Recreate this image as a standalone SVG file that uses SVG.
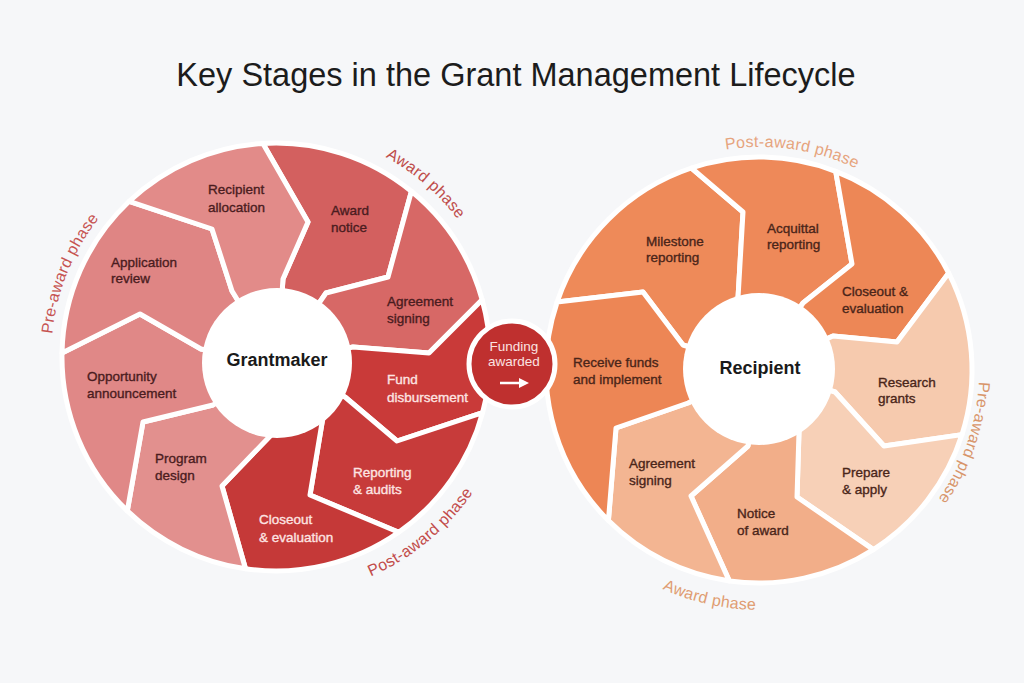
<svg xmlns="http://www.w3.org/2000/svg" width="1024" height="683" viewBox="0 0 1024 683">
<defs>
<style>
.seg{stroke:#ffffff;stroke-width:5;stroke-linejoin:round}
.lbl{font-family:"Liberation Sans",Arial,sans-serif;font-size:13.5px;stroke-width:0.35}
.dk{fill:#4a1c20;stroke:#4a1c20}
.lt{fill:#fde4e2;stroke:#fde4e2}
.br{fill:#4a2519;stroke:#4a2519}
.ctr{font-family:"Liberation Sans",Arial,sans-serif;font-size:18px;font-weight:bold;fill:#1a1a1a;text-anchor:middle}
.ph{font-family:"Liberation Sans",Arial,sans-serif;font-size:16px;letter-spacing:0.3px}
</style>
<path id="arcL1" d="M 64.6 434 A 225 225 0 0 1 177.4 154.8" fill="none"/>
<path id="arcL2" d="M 276 129 A 228 228 0 0 1 501.6 323.7" fill="none"/>
<path id="arcL3" d="M 276 596 A 239 239 0 0 0 510.5 403.4" fill="none"/>
<path id="arcR1" d="M 625.5 191.6 A 225 225 0 0 1 940.4 237.5" fill="none"/>
<path id="arcR2" d="M 957 276.3 A 219 219 0 0 1 855.7 569" fill="none"/>
<path id="arcR3" d="M 559.1 499.5 A 238 238 0 0 0 887.5 572.9" fill="none"/>
<marker id="ah" viewBox="0 0 10 10" refX="5" refY="5" markerWidth="4" markerHeight="4" orient="auto">
<path d="M0 0 L10 5 L0 10 Z" fill="#ffffff"/>
</marker>
</defs>
<rect width="1024" height="683" fill="#f6f7f9"/>
<text x="516" y="86" text-anchor="middle" font-family="'Liberation Sans',Arial,sans-serif" font-size="32.5" fill="#1c1c1c">Key Stages in the Grant Management Lifecycle</text>

<g id="grantmaker">
<g id="g-award-notice"><path class="seg" fill="#d3605f" d="M 262.9 143.4 A 214 214 0 0 1 411.4 191.3 L 388 277 L 326 293 L 305.4 322.9 L 280.5 314.1 L 283 279 L 308 222 Z"/>
<text class="lbl dk" x="331" y="215">Award</text><text class="lbl dk" x="331" y="232">notice</text></g>
<g id="g-agreement-signing"><path class="seg" fill="#d76866" d="M 411.4 191.3 A 214 214 0 0 1 482.2 299.8 L 429 353 L 353 347 L 325.8 353.1 L 305.4 322.9 L 326 293 L 388 277 Z"/>
<text class="lbl dk" x="387" y="306">Agreement</text><text class="lbl dk" x="387" y="323">signing</text></g>
<g id="g-fund-disbursement"><path class="seg" fill="#c93a39" d="M 482.2 299.8 A 214 214 0 0 1 482.6 412.7 L 397 441 L 345 397 L 322 385.8 L 325.8 353.1 L 353 347 L 429 353 Z"/>
<text class="lbl lt" x="387" y="384">Fund</text><text class="lbl lt" x="387" y="402">disbursement</text></g>
<g id="g-reporting"><path class="seg" fill="#c73b3a" d="M 482.6 412.7 A 214 214 0 0 1 398.7 532.3 L 310 495 L 325 405 L 315 396.5 L 322 385.8 L 345 397 L 397 441 Z"/>
<text class="lbl lt" x="353" y="477">Reporting</text><text class="lbl lt" x="353" y="494">&amp; audits</text></g>
<g id="g-closeout"><path class="seg" fill="#c53938" d="M 398.7 532.3 A 214 214 0 0 1 245.5 568.8 L 222 486 L 273 433 L 274.1 413.9 L 315 396.5 L 325 405 L 310 495 Z"/>
<text class="lbl lt" x="259" y="524">Closeout</text><text class="lbl lt" x="259" y="542">&amp; evaluation</text></g>
<g id="g-program-design"><path class="seg" fill="#e2908e" d="M 245.5 568.8 A 214 214 0 0 1 127.3 510.9 L 143 422 L 213 405 L 234.9 391 L 274.1 413.9 L 273 433 L 222 486 Z"/>
<text class="lbl dk" x="155" y="463">Program</text><text class="lbl dk" x="155" y="480">design</text></g>
<g id="g-opportunity"><path class="seg" fill="#e08887" d="M 127.3 510.9 A 214 214 0 0 1 62 352.9 L 140 314 L 201 349 L 228 354.3 L 234.9 391 L 213 405 L 143 422 Z"/>
<text class="lbl dk" x="87" y="381">Opportunity</text><text class="lbl dk" x="87" y="398">announcement</text></g>
<g id="g-application-review"><path class="seg" fill="#df8584" d="M 62 352.9 A 214 214 0 0 1 129.2 201.3 L 212 229 L 232 291 L 250.8 321.5 L 228 354.3 L 201 349 L 140 314 Z"/>
<text class="lbl dk" x="111" y="267">Application</text><text class="lbl dk" x="111" y="283">review</text></g>
<g id="g-recipient-allocation"><path class="seg" fill="#e28b89" d="M 129.2 201.3 A 214 214 0 0 1 262.9 143.4 L 308 222 L 283 279 L 280.5 314.1 L 250.8 321.5 L 232 291 L 212 229 Z"/>
<text class="lbl dk" x="208" y="194">Recipient</text><text class="lbl dk" x="208" y="212">allocation</text></g>
<g id="g-grantmaker-center"><circle cx="277" cy="363" r="75" fill="#ffffff"/>
<text class="ctr" x="277" y="366">Grantmaker</text></g>
<g id="g-left-phases">
<text class="ph" fill="#c65452"><textPath href="#arcL1" startOffset="50%" text-anchor="middle">Pre-award phase</textPath></text>
<text class="ph" fill="#bf4d4b"><textPath href="#arcL2" startOffset="50%" text-anchor="middle">Award phase</textPath></text>
<text class="ph" fill="#c24c4a"><textPath href="#arcL3" startOffset="97.5">Post-award</textPath></text>
<text class="ph" fill="#c24c4a"><textPath href="#arcL3" startOffset="186.5">phase</textPath></text>
</g>
</g>

<g id="recipient">
<g id="r-milestone"><path class="seg" fill="#ee8a59" d="M 557.1 302.1 A 213 213 0 0 1 691.4 168 L 743 212 L 738 298 L 744.8 321 L 711.3 353.9 L 683 345 L 643 292 Z"/>
<text class="lbl br" x="646" y="246">Milestone</text><text class="lbl br" x="646" y="262">reporting</text></g>
<g id="r-acquittal"><path class="seg" fill="#ee8959" d="M 691.4 168 A 213 213 0 0 1 835.7 171.3 L 852 264 L 803 303 L 786.7 327.4 L 744.8 321 L 738 298 L 743 212 Z"/>
<text class="lbl br" x="767" y="233">Acquittal</text><text class="lbl br" x="767" y="249">reporting</text></g>
<g id="r-closeout"><path class="seg" fill="#ed8756" d="M 835.7 171.3 A 213 213 0 0 1 948.7 273.1 L 897 342 L 833 336 L 804.7 348.6 L 786.7 327.4 L 803 303 L 852 264 Z"/>
<text class="lbl br" x="842" y="296">Closeout &amp;</text><text class="lbl br" x="842" y="313">evaluation</text></g>
<g id="r-research"><path class="seg" fill="#f6caae" d="M 948.7 273.1 A 213 213 0 0 1 962 434.6 L 884 446 L 835 392 L 806.9 383.5 L 804.7 348.6 L 833 336 L 897 342 Z"/>
<text class="lbl br" x="878" y="387">Research</text><text class="lbl br" x="878" y="403">grants</text></g>
<g id="r-prepare"><path class="seg" fill="#f7d0b7" d="M 962 434.6 A 213 213 0 0 1 873.4 549.6 L 797 497 L 799 432 L 785.8 411.2 L 806.9 383.5 L 835 392 L 884 446 Z"/>
<text class="lbl br" x="842" y="477">Prepare</text><text class="lbl br" x="842" y="494">&amp; apply</text></g>
<g id="r-notice"><path class="seg" fill="#f2ae89" d="M 873.4 549.6 A 213 213 0 0 1 729.3 580.9 L 691 496 L 748 446 L 752 418.5 L 785.8 411.2 L 799 432 L 797 497 Z"/>
<text class="lbl br" x="737" y="518">Notice</text><text class="lbl br" x="737" y="535">of award</text></g>
<g id="r-agreement"><path class="seg" fill="#f3b592" d="M 729.3 580.9 A 213 213 0 0 1 608.4 520.6 L 616 428 L 688 403 L 713.9 390.6 L 752 418.5 L 748 446 L 691 496 Z"/>
<text class="lbl br" x="629" y="468">Agreement</text><text class="lbl br" x="629" y="485">signing</text></g>
<g id="r-receive"><path class="seg" fill="#ed8655" d="M 608.4 520.6 A 213 213 0 0 1 557.1 302.1 L 643 292 L 683 345 L 711.3 353.9 L 713.9 390.6 L 688 403 L 616 428 Z"/>
<text class="lbl br" x="573" y="367">Receive funds</text><text class="lbl br" x="573" y="384">and implement</text></g>
<g id="r-center"><circle cx="759" cy="369" r="76" fill="#ffffff"/>
<text class="ctr" x="760" y="374">Recipient</text></g>
<g id="r-phases">
<text class="ph" fill="#e6a47e"><textPath href="#arcR1" startOffset="50%" text-anchor="middle">Post-award phase</textPath></text>
<text class="ph" fill="#d8956a"><textPath href="#arcR2" startOffset="50%" text-anchor="middle">Pre-award phase</textPath></text>
<text class="ph" fill="#e09d72"><textPath href="#arcR3" startOffset="50%" text-anchor="middle">Award phase</textPath></text>
</g>
</g>

<g id="connectors">
<g id="funding-awarded">
<circle cx="512" cy="364" r="43" fill="#bf302f" stroke="#ffffff" stroke-width="5"/>
<text x="514" y="351" text-anchor="middle" font-family="'Liberation Sans',Arial,sans-serif" font-size="13.5" fill="#fbe3e2">Funding</text>
<text x="514" y="366" text-anchor="middle" font-family="'Liberation Sans',Arial,sans-serif" font-size="13.5" fill="#fbe3e2">awarded</text>
<line x1="500" y1="383" x2="524" y2="383" stroke="#ffffff" stroke-width="2.5" marker-end="url(#ah)"/>
</g>
</g>
</svg>
